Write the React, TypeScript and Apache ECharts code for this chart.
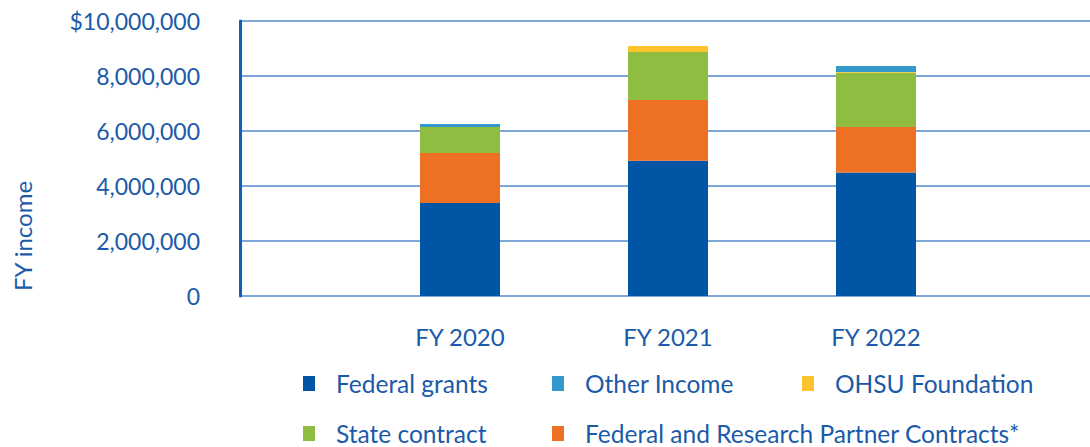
import React, { useEffect, useRef } from "react";
import * as echarts from "echarts";

const categories = ["FY 2020", "FY 2021", "FY 2022"];
const federalGrants = [3380000, 4920000, 4490000];
const partnerContracts = [1820000, 2207000, 1655000];
const stateContract = [945000, 1745000, 1975000];
const ohsuFoundation = [0, 220000, 25000];
const otherIncome = [110000, 0, 220000];
const yTicks = [0, 2000000, 4000000, 6000000, 8000000, 10000000];

const TEXT = "#1a5aa8";
const FONT = "Lato";

export default function App() {
  const ref = useRef<HTMLDivElement>(null);
  useEffect(() => {
    const chart = echarts.init(ref.current!, null, { renderer: "svg" });
    const fmt = (v: number) => {
      if (v === 0) return "0";
      const s = v.toLocaleString("en-US");
      return v === yTicks[yTicks.length - 1] ? "$" + s : s;
    };
    const legendText = { color: TEXT, fontFamily: FONT, fontSize: 24.5, lineHeight: 24, padding: [0, 0, 0, 16] };
    const legendBase = {
      orient: "vertical" as const,
      top: 371,
      padding: 0,
      itemWidth: 12,
      itemHeight: 15,
      itemGap: 25,
      icon: "rect",
      selectedMode: false,
      textStyle: legendText,
    };
    chart.setOption({
      animation: false,
      grid: [
        { left: 240, right: 0, top: 21, bottom: 151 },
        { left: 356, width: 624, top: 21, bottom: 151 },
      ],
      xAxis: [
        { type: "value", gridIndex: 0, show: false, min: 0, max: 1 },
        {
          type: "category",
          gridIndex: 1,
          data: categories,
          axisLine: { show: false },
          axisTick: { show: false },
          axisLabel: { color: TEXT, fontFamily: FONT, fontSize: 24, margin: 28 },
        },
      ],
      yAxis: [
        {
          type: "value",
          gridIndex: 0,
          min: 0,
          max: 10000000,
          interval: 2000000,
          axisLine: { show: true, lineStyle: { color: "#1060b8", width: 3 } },
          axisTick: { show: false },
          splitLine: { show: true, lineStyle: { color: "#7ea6d8", width: 2 } },
          axisLabel: { color: TEXT, fontFamily: FONT, fontSize: 23, margin: 40, formatter: fmt },
        },
        { type: "value", gridIndex: 1, min: 0, max: 10000000, show: false },
      ],
      legend: [
        { ...legendBase, left: 303, data: ["Federal grants", "State contract"] },
        { ...legendBase, left: 552, data: ["Other Income", "Federal and Research Partner Contracts*"] },
        { ...legendBase, left: 802, data: ["OHSU Foundation"] },
      ],
      graphic: [
        {
          type: "text",
          x: 22,
          y: 236,
          rotation: Math.PI / 2,
          style: {
            text: "FY income",
            fill: TEXT,
            font: `24px ${FONT}`,
            align: "center",
            verticalAlign: "middle",
          },
        },
      ],
      series: [
        { name: "Federal grants", data: federalGrants, color: "#0055a5" },
        { name: "Federal and Research Partner Contracts*", data: partnerContracts, color: "#ee7023" },
        { name: "State contract", data: stateContract, color: "#8fbd41" },
        { name: "OHSU Foundation", data: ohsuFoundation, color: "#fec42d" },
        { name: "Other Income", data: otherIncome, color: "#3399cc" },
      ].map((s) => ({
        ...s,
        type: "bar",
        stack: "total",
        xAxisIndex: 1,
        yAxisIndex: 1,
        barWidth: 80,
        itemStyle: { color: s.color },
      })),
    });
    return () => chart.dispose();
  }, []);
  return <div ref={ref} style={{ width: 1090, height: 447, position: "absolute", left: 0, top: 0 }} />;
}
